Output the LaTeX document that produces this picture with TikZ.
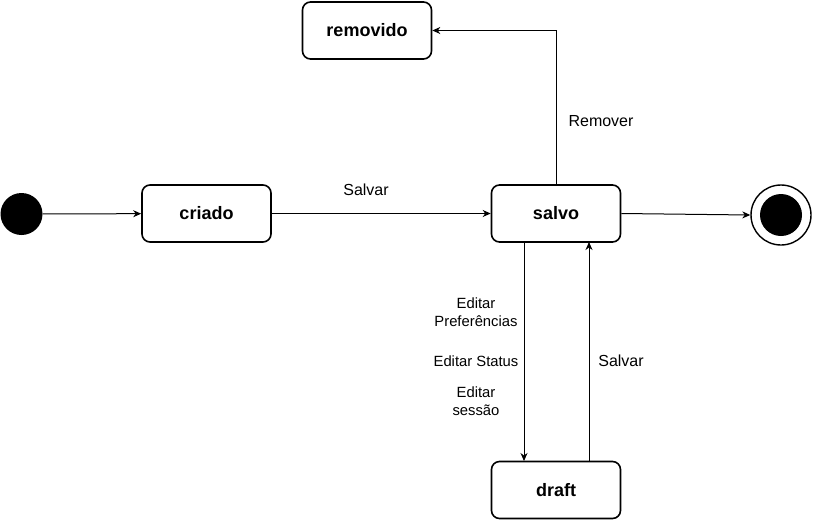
\documentclass[tikz,border=0pt]{standalone}
\usepackage{fontspec}
\setmainfont{Liberation Sans}
\usetikzlibrary{arrows.meta}
\begin{document}
\begin{tikzpicture}[x=1pt,y=-1pt,
  state/.style={draw=black, line width=1.6pt, rounded corners=8pt, minimum width=129pt, minimum height=57pt, inner sep=0pt, font=\fontsize{18}{21}\selectfont\bfseries},
  edge/.style={draw=black, line width=1pt, -{Stealth[length=8pt,width=7pt,inset=2.5pt]}},
  lbl/.style={font=\fontsize{16}{19}\selectfont, align=center, inner sep=0pt},
  lbls/.style={font=\fontsize{14.8}{18.5}\selectfont, align=center, inner sep=0pt}]
\useasboundingbox (0,0) rectangle (813,520);
\node[circle, fill=black, minimum size=42pt, inner sep=0pt] (init) at (21.5,214) {};
\node[state] (criado) at (206.5,213.5) {criado};
\node[state] (salvo) at (556,213.5) {salvo};
\node[state] (removido) at (367,30.5) {removido};
\node[state] (draft) at (556,490) {draft};
\node[circle, draw=black, line width=1.4pt, minimum size=60pt, inner sep=0pt] (final) at (781,215) {};
\node[circle, fill=black, minimum size=42pt, inner sep=0pt] (finalin) at (781,215) {};
\coordinate (sd) at (524,242);
\coordinate (dd) at (524,461);
\coordinate (du) at (589,461);
\coordinate (su) at (589,242);
\draw[edge] (init) -- (criado);
\draw[edge] (criado) -- (salvo);
\draw[edge] (salvo.east) -- (final.west);
\draw[edge] (salvo.north) |- (removido.east);
\draw[edge] (sd) -- (dd);
\draw[edge] (du) -- (su);
\node[lbl] (l1) at (366,190) {Salvar};
\node[lbl] (l2) at (601,121) {Remover};
\node[lbls] (l3) at (476,312) {Editar\\Preferências};
\node[lbls] (l4) at (476,361) {Editar Status};
\node[lbls] (l5) at (476,401) {Editar\\sessão};
\node[lbl] (l6) at (621,361) {Salvar};
\end{tikzpicture}
\end{document}
